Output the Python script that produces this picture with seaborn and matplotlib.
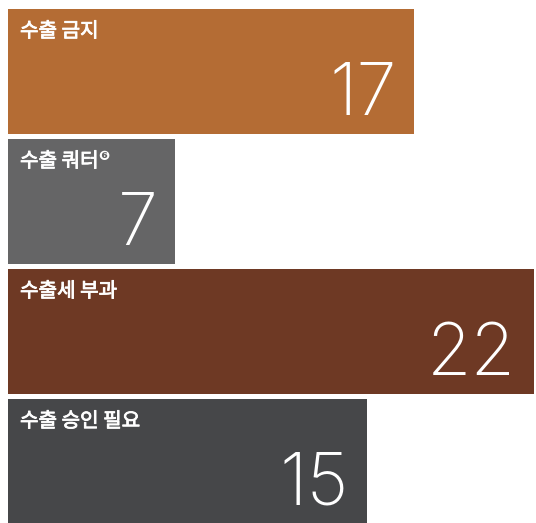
import matplotlib
matplotlib.use("Agg")
import matplotlib.pyplot as plt
import matplotlib.patheffects as pe
import seaborn as sns
import pandas as pd

categories = ["수출 금지", "수출 쿼터", "수출세 부과", "수출 승인 필요"]
values = [17, 7, 22, 15]
superscripts = ["", "❻", "", ""]
colors = ["#B46C34", "#656566", "#6E3924", "#464749"]

sns.set_theme(style="white")
plt.rcParams["font.family"] = ["Noto Sans CJK KR", "DejaVu Sans"]

df = pd.DataFrame({"category": categories, "value": values})

fig = plt.figure(figsize=(5.36, 5.23), dpi=100)
ax = fig.add_axes([0, 0, 1, 1])
W = 125 / 130
sns.barplot(data=df, x="value", y="category", hue="category", palette=colors,
            order=categories, hue_order=categories, width=W, legend=False,
            saturation=1, ax=ax, edgecolor="none", linewidth=0)

ax.set_xlim(-8 / 23.909, 22 + 2 / 23.909)
ax.set_ylim(523 / 130 - 71.5 / 130, -71.5 / 130)
ax.axis("off")

for i, (cat, val, sup) in enumerate(zip(categories, values, superscripts)):
    t = ax.annotate(cat, xy=(0, i - W / 2), xycoords="data",
                    xytext=(12, -12), textcoords="offset pixels",
                    ha="left", va="top", color="white", fontsize=14.5,
                    annotation_clip=False,
                    path_effects=[pe.withStroke(linewidth=0.6, foreground="white")])
    if sup:
        fig.canvas.draw()
        bb = t.get_window_extent()
        fig.text((bb.x1 - 0.5) / fig.bbox.width, (bb.y1 + 1) / fig.bbox.height, sup,
                 ha="left", va="top", color="white", fontsize=9.5,
                 family=["DejaVu Sans"], fontweight="bold")
    ax.annotate(str(val), xy=(val, i + W / 2), xycoords="data",
                xytext=(-18, 19), textcoords="offset pixels",
                ha="right", va="baseline", color="white", fontsize=52,
                family=["Inter", "DejaVu Sans"], fontweight=200,
                annotation_clip=False)

fig.savefig("out.png", dpi=100)
